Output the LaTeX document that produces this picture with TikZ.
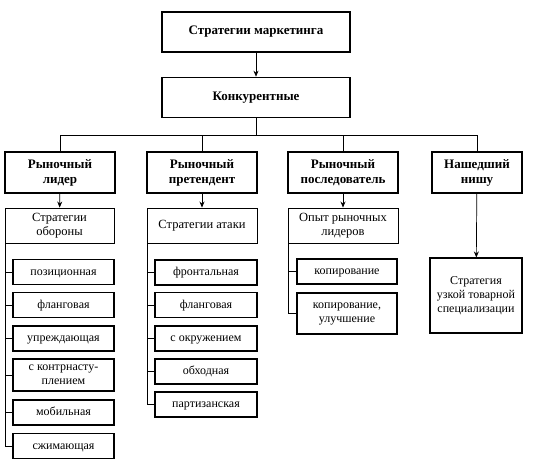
\documentclass[tikz,border=0pt]{standalone}
\usepackage{fontspec}
\setmainfont{Liberation Serif}
\usetikzlibrary{arrows.meta}
\tikzset{
  topbox/.style={draw,line width=1.6pt,minimum width=188pt,minimum height=40pt,font=\bfseries\fontsize{13}{15}\selectfont},
  leadbox/.style={draw,line width=1.6pt,minimum width=110pt,minimum height=41pt,align=center,inner sep=1pt,font=\bfseries\fontsize{13}{15}\selectfont},
  headbox/.style={draw,line width=0.9pt,minimum width=110pt,minimum height=35pt,align=center,inner sep=1pt,font=\fontsize{12.5}{14}\selectfont},
  itembox/.style={draw,line width=1.1pt,minimum height=25pt,align=center,inner sep=1pt,font=\fontsize{12}{14}\selectfont},
  oneline/.style={text height=8.5pt,text depth=2.5pt},
  link/.style={line width=0.7pt},
  arr/.style={link,-{Stealth[length=6pt,width=5pt]}}
}
\begin{document}
\begin{tikzpicture}[x=1pt,y=-1pt]
  \useasboundingbox (0,0) rectangle (533,468);
  \node[topbox,oneline] (marketing) at (256,32) {Стратегии маркетинга};
  \node[topbox,oneline] (konk) at (256,97.5) {Конкурентные};
  \draw[arr] (marketing) -- (konk);
  \node[leadbox] (lider) at (60,172.5) {Рыночный\\лидер};
  \node[leadbox] (pret) at (202,172.5) {Рыночный\\претендент};
  \node[leadbox] (posl) at (343,172.5) {Рыночный\\последователь};
  \node[leadbox,minimum width=90pt] (nisha) at (477,172.5) {Нашедший\\нишу};
  \draw[link] (konk.south) -- ++(0,17.5) coordinate (fork);
  \draw[link] (lider.north) |- (fork) -| (nisha.north);
  \draw[link] (pret.north) -- (pret.north |- fork);
  \draw[link] (posl.north) -- (posl.north |- fork);
  \node[headbox,minimum width=109pt] (oborona) at (59.5,225.5) {Стратегии\\обороны};
  \node[headbox,oneline] (ataka) at (202,225.5) {Стратегии атаки};
  \node[headbox] (opyt) at (343,225.5) {Опыт рыночных\\лидеров};
  \draw[arr] (lider) -- (oborona);
  \draw[arr] (pret) -- (ataka);
  \draw[arr] (posl) -- (opyt);
  \foreach \t/\y [count=\i] in {позиционная/272, фланговая/305, упреждающая/338.5, мобильная/412.5, сжимающая/446} {
    \node[itembox,oneline,minimum width=101pt] (def\i) at (63.5,\y) {\t};
    \draw[link] ([xshift=0.5pt]oborona.south west) |- (def\i.west);
  }
  \node[itembox,minimum width=101pt,minimum height=32pt] (def6) at (63.5,375) {с контрнасту-\\плением};
  \draw[link] ([xshift=0.5pt]oborona.south west) |- (def6.west);
  \foreach \t/\y [count=\i] in {фронтальная/272.5, фланговая/305, с окружением/338.5, обходная/371.5, партизанская/404.5} {
    \node[itembox,oneline,minimum width=102pt] (att\i) at (206,\y) {\t};
    \draw[link] ([xshift=0.5pt]ataka.south west) |- (att\i.west);
  }
  \node[itembox,oneline,minimum width=100pt] (cop1) at (347,271.5) {копирование};
  \node[itembox,minimum width=100pt,minimum height=41pt] (cop2) at (347,313.5) {копирование,\\улучшение};
  \draw[link] ([xshift=0.5pt]opyt.south west) |- (cop1.west);
  \draw[link] ([xshift=0.5pt]opyt.south west) |- (cop2.west);
  \node[itembox,minimum width=92pt,minimum height=75pt] (spec) at (476,295.5) {Стратегия\\узкой товарной\\специализации};
  \draw[arr] (nisha) -- (spec);
\end{tikzpicture}
\end{document}
